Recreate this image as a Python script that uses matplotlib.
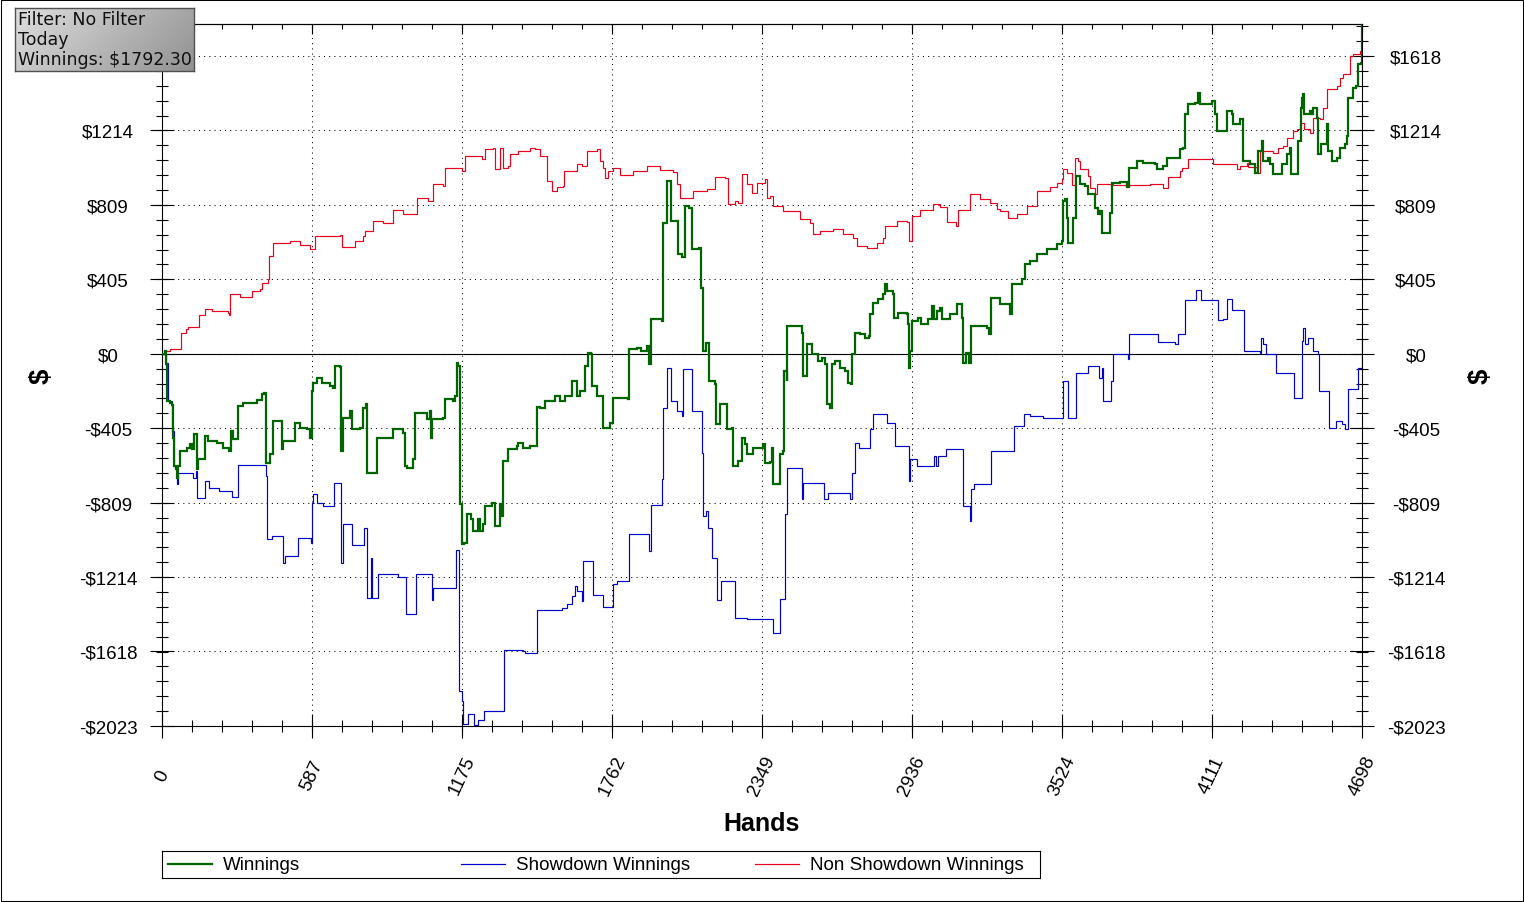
import numpy as np
import matplotlib
matplotlib.use("Agg")
import matplotlib.pyplot as plt
from matplotlib.ticker import FixedLocator, MultipleLocator, FuncFormatter
from matplotlib.patches import Rectangle

plt.rcParams['font.family'] = ['Liberation Sans', 'DejaVu Sans']

# ---------------- data ----------------
series_names = ["Winnings", "Showdown Winnings", "Non Showdown Winnings"]
series_colors = ["#006400", "#0000cc", "#e8001c"]

win_points = [(0,0),(12,16),(16,-54),(20,-255),(31,-266),(39,-277),(43,-457),(47,-609),(55,-625),(59,-674),(63,-609),(70,-527),(98,-511),(110,-489),(117,-516),(125,-435),(133,-435),(137,-625),(141,-571),(149,-571),(168,-446),(180,-473),(215,-484),(239,-511),(262,-527),(270,-418),(278,-462),(294,-462),(298,-283),(317,-266),(372,-250),(392,-217),(399,-212),(407,-592),(423,-544),(435,-364),(450,-364),(470,-516),(474,-473),(501,-473),(513,-473),(521,-375),(540,-402),(568,-408),(579,-457),(587,-201),(591,-158),(607,-130),(626,-158),(658,-174),(669,-185),(677,-65),(697,-71),(701,-527),(705,-527),(709,-348),(736,-310),(744,-408),(775,-402),(787,-293),(799,-272),(803,-647),(822,-647),(842,-457),(881,-457),(904,-408),(944,-429),(951,-609),(959,-620),(983,-571),(990,-321),(1010,-321),(1037,-353),(1049,-310),(1053,-457),(1057,-353),(1100,-348),(1108,-245),(1139,-255),(1147,-228),(1155,-49),(1159,-65),(1167,-815),(1175,-1033),(1182,-1027),(1194,-870),(1210,-897),(1218,-962),(1237,-897),(1245,-962),(1257,-924),(1265,-826),(1292,-810),(1304,-935),(1315,-935),(1323,-815),(1331,-880),(1335,-582),(1355,-516),(1390,-500),(1394,-484),(1413,-511),(1441,-500),(1460,-500),(1468,-288),(1480,-293),(1499,-255),(1539,-228),(1558,-255),(1578,-228),(1605,-147),(1625,-228),(1636,-201),(1656,-65),(1668,5),(1680,0),(1683,-174),(1703,-228),(1715,-228),(1727,-402),(1754,-375),(1766,-239),(1824,-245),(1828,27),(1860,33),(1875,16),(1899,43),(1907,-54),(1914,190),(1958,179),(1961,712),(1977,940),(1993,723),(2020,544),(2036,527),(2048,804),(2063,794),(2075,571),(2102,576),(2110,359),(2118,16),(2130,60),(2142,16),(2143,-147),(2165,-163),(2169,-380),(2185,-272),(2204,-272),(2212,-408),(2232,-402),(2235,-609),(2255,-582),(2271,-457),(2282,-489),(2290,-544),(2314,-511),(2353,-489),(2361,-592),(2380,-587),(2388,-511),(2392,-707),(2412,-707),(2419,-544),(2431,-527),(2435,-92),(2447,-147),(2448,152),(2498,152),(2506,114),(2510,-120),(2525,-120),(2526,54),(2545,0),(2568,-38),(2584,-22),(2596,-54),(2603,-272),(2615,-293),(2623,-54),(2635,-38),(2654,-76),(2674,-92),(2686,-158),(2697,-163),(2701,0),(2713,114),(2733,109),(2752,87),(2768,98),(2772,217),(2784,277),(2803,299),(2823,326),(2831,380),(2838,342),(2862,326),(2866,196),(2881,223),(2917,217),(2921,163),(2924,-76),(2928,16),(2936,179),(2960,196),(2972,163),(2999,190),(3015,261),(3022,190),(3034,234),(3046,250),(3054,190),(3085,217),(3112,272),(3132,196),(3136,-49),(3148,5),(3159,-49),(3167,152),(3191,152),(3230,141),(3238,109),(3246,304),(3253,304),(3281,272),(3320,217),(3328,380),(3367,408),(3379,489),(3398,505),(3426,544),(3465,571),(3504,598),(3524,614),(3527,832),(3535,842),(3543,739),(3547,603),(3563,603),(3567,739),(3578,967),(3594,924),(3614,913),(3625,870),(3653,794),(3664,761),(3672,777),(3680,658),(3704,658),(3711,766),(3719,929),(3751,935),(3778,908),(3786,1011),(3817,1049),(3841,1038),(3888,1033),(3895,1005),(3919,1022),(3935,1065),(3958,1065),(3985,1114),(3997,1120),(4005,1304),(4017,1359),(4044,1364),(4056,1419),(4064,1359),(4095,1359),(4111,1375),(4122,1304),(4130,1212),(4162,1212),(4170,1321),(4189,1304),(4193,1250),(4220,1277),(4228,1277),(4232,1049),(4259,1033),(4279,984),(4291,1103),(4307,1158),(4310,1049),(4330,1065),(4338,1033),(4350,978),(4377,978),(4385,1033),(4404,1087),(4416,1120),(4420,978),(4444,978),(4447,1158),(4459,1337),(4463,1391),(4467,1413),(4471,1304),(4487,1304),(4494,1321),(4502,1304),(4506,1337),(4522,1283),(4526,1087),(4538,1141),(4545,1141),(4561,1250),(4565,1103),(4581,1049),(4600,1065),(4612,1120),(4632,1141),(4639,1185),(4643,1391),(4663,1446),(4675,1457),(4682,1576),(4694,1582),(4698,1792.3)]

showdown_points = [(0,0),(8,5),(16,-49),(23,-255),(39,-418),(47,-609),(51,-620),(59,-707),(63,-647),(117,-647),(121,-674),(129,-674),(133,-636),(137,-783),(161,-783),(168,-690),(180,-690),(184,-728),(219,-728),(223,-745),(266,-745),(274,-777),(294,-777),(298,-603),(395,-603),(407,-663),(411,-1005),(431,-989),(470,-989),(474,-1136),(482,-1098),(529,-1098),(532,-1000),(579,-1000),(583,-1027),(587,-810),(591,-761),(603,-761),(607,-810),(630,-826),(669,-826),(673,-701),(697,-701),(701,-1136),(709,-924),(736,-924),(744,-1038),(787,-1038),(791,-946),(799,-946),(803,-1326),(814,-1326),(818,-1109),(822,-1326),(842,-1326),(846,-1196),(920,-1196),(924,-1212),(951,-1212),(955,-1413),(990,-1413),(994,-1196),(1053,-1196),(1057,-1337),(1061,-1272),(1147,-1272),(1151,-1065),(1159,-1065),(1163,-1832),(1175,-1886),(1178,-2011),(1194,-2011),(1198,-1957),(1218,-1957),(1221,-2020),(1233,-2020),(1237,-1989),(1257,-1989),(1261,-1940),(1335,-1940),(1339,-1609),(1413,-1614),(1421,-1625),(1464,-1625),(1468,-1391),(1558,-1391),(1566,-1380),(1586,-1359),(1605,-1315),(1617,-1261),(1625,-1288),(1636,-1288),(1644,-1342),(1648,-1125),(1683,-1125),(1687,-1310),(1723,-1310),(1727,-1375),(1762,-1375),(1766,-1250),(1781,-1234),(1824,-1234),(1828,-978),(1903,-978),(1907,-1071),(1914,-821),(1950,-821),(1958,-679),(1961,-293),(1977,-76),(1989,-76),(1993,-255),(2012,-255),(2016,-310),(2036,-337),(2040,-82),(2071,-82),(2075,-310),(2106,-310),(2114,-538),(2118,-880),(2130,-853),(2138,-946),(2153,-1109),(2169,-1109),(2173,-1337),(2185,-1337),(2188,-1234),(2239,-1234),(2243,-1435),(2286,-1435),(2290,-1440),(2388,-1440),(2392,-1516),(2412,-1516),(2419,-1332),(2435,-1332),(2439,-870),(2447,-620),(2502,-620),(2506,-788),(2510,-701),(2588,-701),(2592,-788),(2607,-755),(2686,-755),(2694,-788),(2701,-647),(2713,-484),(2725,-484),(2729,-511),(2760,-511),(2772,-408),(2784,-326),(2831,-326),(2838,-375),(2866,-375),(2870,-500),(2921,-500),(2924,-690),(2928,-571),(2956,-609),(3018,-609),(3022,-554),(3030,-609),(3038,-554),(3065,-554),(3069,-516),(3132,-516),(3136,-826),(3159,-826),(3163,-908),(3167,-734),(3179,-707),(3242,-707),(3246,-527),(3332,-527),(3336,-391),(3371,-391),(3375,-326),(3398,-337),(3449,-348),(3524,-348),(3527,-147),(3543,-147),(3547,-348),(3574,-348),(3578,-103),(3625,-65),(3664,-65),(3668,-130),(3680,-76),(3684,-255),(3704,-255),(3715,-147),(3723,0),(3778,0),(3782,-27),(3786,109),(3895,109),(3899,65),(3958,65),(3966,54),(3978,109),(4001,109),(4005,293),(4044,293),(4048,348),(4064,348),(4068,293),(4130,293),(4134,185),(4154,190),(4170,299),(4185,299),(4189,239),(4232,239),(4236,16),(4299,5),(4303,87),(4310,54),(4322,0),(4357,0),(4361,-103),(4428,-103),(4432,-239),(4447,-239),(4463,71),(4467,141),(4475,54),(4487,87),(4506,16),(4526,0),(4530,-201),(4565,-201),(4569,-402),(4592,-402),(4596,-364),(4620,-380),(4632,-408),(4643,-190),(4678,-190),(4682,-76),(4697,-76),(4698,120)]

non_showdown_points = [(0,0),(12,16),(31,27),(67,27),(74,114),(94,136),(102,147),(141,147),(145,212),(168,245),(196,234),(258,223),(262,212),(266,326),(305,310),(352,342),(384,353),(392,386),(415,408),(419,533),(435,603),(501,614),(540,592),(579,571),(599,641),(697,647),(705,582),(756,614),(787,641),(795,668),(826,723),(865,712),(904,783),(944,761),(998,848),(1041,832),(1061,924),(1100,913),(1108,1011),(1175,995),(1186,1076),(1253,1060),(1265,1114),(1296,1120),(1304,1005),(1319,1005),(1323,1120),(1331,1120),(1335,1011),(1355,1022),(1362,1087),(1394,1103),(1441,1120),(1460,1114),(1480,1076),(1499,1076),(1507,940),(1527,886),(1546,908),(1570,913),(1574,995),(1625,1033),(1644,1022),(1664,1103),(1703,1114),(1715,1049),(1727,1011),(1734,957),(1746,995),(1766,1011),(1793,973),(1844,995),(1899,1022),(1950,1000),(2001,989),(2016,924),(2028,848),(2067,848),(2079,886),(2134,897),(2165,962),(2204,957),(2216,815),(2243,832),(2255,821),(2271,978),(2290,924),(2310,875),(2329,929),(2361,951),(2369,848),(2380,859),(2392,804),(2431,777),(2498,734),(2537,712),(2549,652),(2576,668),(2627,679),(2666,652),(2705,630),(2721,587),(2760,576),(2799,603),(2823,630),(2831,696),(2878,723),(2917,717),(2924,614),(2936,750),(2968,783),(3018,815),(3046,799),(3073,717),(3109,696),(3116,783),(3163,870),(3202,842),(3242,821),(3269,788),(3281,777),(3312,739),(3347,761),(3386,804),(3426,886),(3477,908),(3504,929),(3524,951),(3527,1005),(3543,984),(3563,919),(3574,1065),(3586,1049),(3594,1005),(3614,1005),(3625,967),(3633,902),(3653,870),(3661,924),(3723,918),(3801,918),(3868,924),(3919,902),(3938,962),(3985,995),(3993,1011),(4017,1060),(4111,1060),(4115,1033),(4209,1005),(4220,1022),(4248,1038),(4252,1016),(4287,984),(4299,1103),(4350,1092),(4369,1120),(4389,1130),(4404,1174),(4428,1212),(4444,1223),(4455,1255),(4471,1223),(4494,1201),(4506,1283),(4534,1277),(4545,1337),(4561,1440),(4600,1457),(4612,1500),(4624,1522),(4651,1620),(4663,1630),(4690,1647),(4698,1647)]

x_ticks = [0, 587, 1175, 1762, 2349, 2936, 3524, 4111, 4698]
y_ticks = [-2023, -1618, -1214, -809, -405, 0, 405, 809, 1214, 1618]
x_range = (0, 4698)
y_range = (-2023, 1792.30)
info_lines = ["Filter: No Filter", "Today", "Winnings: $1792.30"]
x_title = "Hands"
y_title = "$"

# ---------------- figure ----------------
W, H = 1524, 903
fig = plt.figure(figsize=(W / 100, H / 100), dpi=100)
fig.patch.set_facecolor("white")


def fx(px):
    return px / W


def fy(py):
    return 1 - py / H


ax = fig.add_axes([fx(162), fy(727), fx(1362) - fx(162), fy(25) - fy(727)])
ax.set_facecolor("white")

series = [win_points, showdown_points, non_showdown_points]
widths = [1.6, 0.85, 0.85]
zorders = [4, 3, 3.5]
for pts, name, col, lw, zo in zip(series, series_names, series_colors, widths, zorders):
    xs = [p[0] for p in pts]
    ys = [p[1] for p in pts]
    ax.plot(xs, ys, color=col, lw=lw, label=name, zorder=zo,
            drawstyle="steps-post", solid_joinstyle="miter")

ax.axhline(0, color="black", lw=0.8, zorder=2.5)

ax.set_xlim(*x_range)
ax.set_ylim(*y_range)

ax.xaxis.set_major_locator(FixedLocator(x_ticks))
ax.xaxis.set_minor_locator(MultipleLocator(x_range[1] / 40))
ax.yaxis.set_major_locator(FixedLocator(y_ticks))
ax.yaxis.set_minor_locator(MultipleLocator(-y_range[0] / 25))

ax.xaxis.set_major_formatter(FuncFormatter(lambda v, p: f"{int(v)}"))
ax.yaxis.set_major_formatter(
    FuncFormatter(lambda v, p: ("-$" if v < 0 else "$") + f"{abs(int(v))}"))

ax.grid(True, which="major", color="black", linestyle=(0, (1, 4)), linewidth=0.75)
ax.set_axisbelow(True)

for s in ax.spines.values():
    s.set_linewidth(0.8)
    s.set_color("black")

ax.tick_params(axis="both", which="major", direction="inout", length=17,
               width=0.8, labelsize=13.5, colors="black")
ax.tick_params(axis="both", which="minor", direction="inout", length=9, width=0.8)
ax.tick_params(axis="y", which="both", left=True, right=True,
               labelleft=True, labelright=True, pad=30.4)
ax.tick_params(axis="x", which="both", bottom=True, top=False, pad=26.8)

for lbl in ax.yaxis.get_majorticklabels():
    lbl.set_horizontalalignment("center")
for lbl in ax.xaxis.get_majorticklabels():
    lbl.set_rotation(65)
    lbl.set_horizontalalignment("center")
    lbl.set_verticalalignment("center")

# the left "$1618" label sits under the info box in the reference
for tick in ax.yaxis.get_major_ticks():
    if tick.get_loc() == y_ticks[-1]:
        tick.label1.set_visible(False)

sec = ax.secondary_xaxis("top")
sec.xaxis.set_major_locator(FixedLocator(x_ticks))
sec.xaxis.set_minor_locator(MultipleLocator(x_range[1] / 40))
sec.tick_params(which="major", direction="in", length=7.5, width=0.8, labeltop=False)
sec.tick_params(which="minor", direction="in", length=3.6, width=0.8)
sec.spines["top"].set_linewidth(0.8)

# axis titles
fig.text(fx(762), fy(824), x_title, ha="center", va="center",
         fontsize=18, fontweight="bold")
fig.text(fx(42), fy(376), y_title, ha="center", va="center",
         fontsize=20, fontweight="bold", rotation=90)
fig.text(fx(1481), fy(376), y_title, ha="center", va="center",
         fontsize=20, fontweight="bold", rotation=90)

# legend (manual, evenly spaced columns)
lax = fig.add_axes([fx(162), fy(879), fx(1040) - fx(162), fy(852) - fy(879)])
lax.set_xlim(162, 1040)
lax.set_ylim(879, 852)
lax.set_xticks([])
lax.set_yticks([])
for s in lax.spines.values():
    s.set_linewidth(0.8)
    s.set_color("black")
col_starts = [168, 461, 755]
for x0, name, col, lw in zip(col_starts, series_names, series_colors, widths):
    lax.plot([x0, x0 + 44], [865.5, 865.5], color=col, lw=lw)
    lax.text(x0 + 55, 865.5, name, ha="left", va="center", fontsize=13.5)

# info box with gradient
iax = fig.add_axes([fx(15), fy(72), fx(194) - fx(15), fy(9) - fy(72)])
iax.set_zorder(10)
gx = np.linspace(0, 1, 200)
gy = np.linspace(0, 1, 60)
GX, GY = np.meshgrid(gx, gy)
grad = 0.87 - 0.30 * (0.75 * GX + 0.25 * GY)
iax.imshow(grad, cmap="gray", vmin=0, vmax=1, aspect="auto",
           extent=[0, 1, 1, 0], interpolation="bilinear")
iax.set_xticks([])
iax.set_yticks([])
for s in iax.spines.values():
    s.set_linewidth(1.0)
    s.set_color("#505050")
for i, line in enumerate(info_lines):
    t = fig.text(fx(18), fy(20 + 20 * i), line, ha="left", va="center",
                 fontsize=12.5, family=["DejaVu Sans"], color="#101010")
    t.set_zorder(11)

# outer frame
fig.add_artist(Rectangle((0.5 / W, 1.5 / H), 1522 / W, 901 / H,
                         transform=fig.transFigure, fill=False,
                         edgecolor="black", linewidth=0.75))

fig.savefig("out.png", dpi=100)
